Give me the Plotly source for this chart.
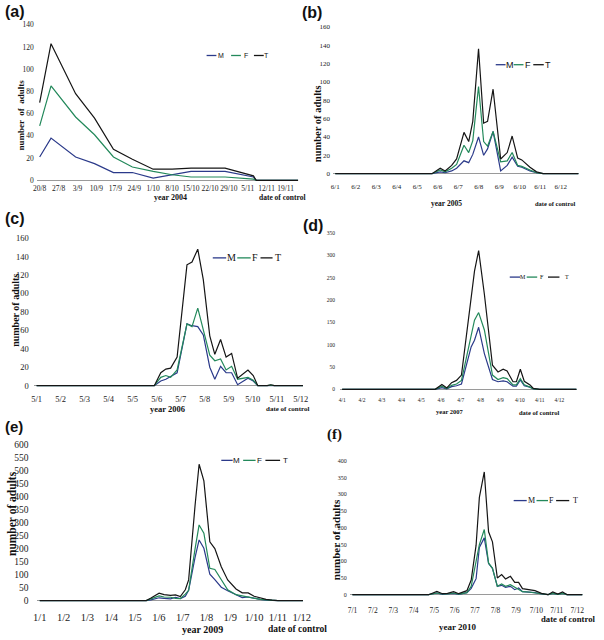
import plotly.graph_objects as go

W, H = 604, 640
SERIF = "Liberation Serif, Times New Roman, serif"
SANS = "Liberation Sans, Arial, sans-serif"
COLORS = {"M": "#2b3a8a", "F": "#23895b", "T": "#151515"}
SERIES = ["M", "F", "T"]

# ---------------- data ----------------
# (a) 2004, x = weeks after 20/8
A_TICKS = ["20/8", "27/8", "3/9", "10/9", "17/9", "24/9", "1/10", "8/10", "15/10", "22/10", "29/10", "5/11", "12/11", "19/11"]
A_X = [0, 0.6, 1.9, 2.9, 3.9, 4.9, 6, 7, 8, 9, 9.8, 11.3, 11.45, 12.5, 13.7]
A_M = [21, 38, 21, 15, 7, 7, 2, 5, 8, 8, 8, 3, 0, 0, 0]
A_F = [49, 85, 57, 41, 21, 12, 8, 5, 3, 3, 3, 1, 0, 0, 0]
A_T = [70, 123, 78, 56, 28, 19, 10, 10, 11, 11, 11, 4, 0, 0, 0]

# (b) 2005, x = month position (tick k = day 6 of month k)
B_TICKS = ["6/1", "6/2", "6/3", "6/4", "6/5", "6/6", "6/7", "6/8", "6/9", "6/10", "6/11", "6/12"]
B_X = [1, 5.72, 6.12, 6.36, 6.68, 6.92, 7.28, 7.51, 7.71, 7.99, 8.24, 8.43, 8.70, 9.07, 9.39, 9.63, 9.90, 10.1, 10.5, 10.82, 11.14, 12.9]
B_M = [0, 0, 2, 1, 3, 6, 14, 12, 21, 40, 20, 27, 46, 3, 9, 18, 8, 7, 3, 1, 0, 0]
B_F = [0, 0, 4, 2, 6, 10, 31, 23, 36, 95, 35, 30, 46, 13, 14, 23, 9, 8, 4, 1, 0, 0]
B_T = [0, 0, 6, 3, 9, 16, 45, 35, 57, 136, 55, 57, 92, 16, 23, 41, 17, 15, 7, 2, 0, 0]

# (c) 2006
C_TICKS = ["5/1", "5/2", "5/3", "5/4", "5/5", "5/6", "5/7", "5/8", "5/9", "5/10", "5/11", "5/12"]
C_X = [1, 5.9, 6.17, 6.38, 6.58, 6.85, 7.26, 7.47, 7.71, 7.94, 8.21, 8.42, 8.66, 8.89, 9.12, 9.37, 9.8, 10.02, 10.21, 10.6, 10.75, 10.9, 12.3]
C_M = [0, 0, 5, 7, 10, 14, 67, 65, 64, 55, 20, 7, 21, 14, 14, 1, 8, 5, 0, 0, 0.5, 0, 0]
C_F = [0, 0, 9, 11, 9, 17, 67, 64, 84, 60, 33, 27, 29, 17, 21, 7, 9, 6, 0, 0, 0.5, 0, 0]
C_T = [0, 0, 14, 18, 19, 31, 131, 134, 148, 115, 54, 34, 50, 31, 35, 8, 17, 11, 0, 0, 1, 0, 0]

# (d) 2007
D_TICKS = ["4/1", "4/2", "4/3", "4/4", "4/5", "4/6", "4/7", "4/8", "4/9", "4/10", "4/11", "4/12"]
D_X = [1, 5.71, 6.05, 6.3, 6.54, 6.79, 7.04, 7.29, 7.53, 7.70, 7.91, 8.2, 8.61, 8.89, 9.15, 9.35, 9.65, 9.82, 10.02, 10.22, 10.51, 10.68, 11.0, 12.9]
D_M = [0, 0, 4, 1, 6, 8, 12, 55, 95, 110, 139, 80, 22, 17, 19, 17, 7, 7, 21, 8, 5, 1, 0, 0]
D_F = [0, 0, 7, 2, 9, 12, 20, 70, 120, 155, 172, 133, 32, 22, 26, 24, 10, 10, 24, 10, 5, 1, 0, 0]
D_T = [0, 0, 11, 3, 15, 20, 32, 125, 215, 265, 311, 213, 54, 39, 45, 41, 17, 17, 45, 18, 10, 2, 0, 0]

# (e) 2009
E_TICKS = ["1/1", "1/2", "1/3", "1/4", "1/5", "1/6", "1/7", "1/8", "1/9", "1/10", "1/11", "1/12"]
E_X = [1, 5.47, 5.67, 6.01, 6.22, 6.49, 6.7, 6.9, 7.11, 7.25, 7.52, 7.69, 7.89, 8.14, 8.35, 8.62, 8.89, 9.24, 9.5, 9.75, 10.0, 10.25, 10.5, 10.75, 11.0, 12.3]
E_M = [0, 0, 3, 11, 9, 7, 13, 8, 17, 40, 167, 234, 202, 102, 81, 52, 38, 22, 12, 14, 8, 5, 2, 1, 0, 0]
E_F = [0, 0, 7, 18, 14, 13, 9, 8, 25, 40, 200, 292, 260, 125, 120, 79, 42, 23, 18, 16, 9, 5, 3, 1, 0, 0]
E_T = [0, 0, 10, 29, 23, 20, 22, 16, 42, 80, 367, 526, 462, 227, 201, 131, 80, 45, 30, 30, 17, 10, 5, 2, 0, 0]

# (f) 2010
F_TICKS = ["7/1", "7/2", "7/3", "7/4", "7/5", "7/6", "7/7", "7/8", "7/9", "7/10", "7/11", "7/12"]
F_X = [1, 4.73, 5.13, 5.4, 5.65, 5.95, 6.2, 6.45, 6.6, 6.81, 7.05, 7.21, 7.45, 7.66, 7.85, 8.09, 8.3, 8.49, 8.73, 8.94, 9.13, 9.32, 9.61, 9.93, 10.25, 10.57, 10.8, 11.05, 11.28, 11.5, 12.3]
F_M = [0, 0, 5, 1, 2, 4, 1, 5, 6, 19, 48, 141, 170, 93, 79, 25, 28, 22, 25, 15, 20, 9, 8, 6, 2, 0, 4, 1, 4, 0, 0]
F_F = [0, 0, 5, 2, 2, 5, 2, 5, 6, 25, 100, 150, 195, 95, 79, 25, 32, 25, 30, 22, 17, 9, 8, 6, 2, 0, 4, 1, 4, 0, 0]
F_T = [0, 0, 10, 3, 4, 9, 3, 10, 12, 44, 148, 291, 367, 188, 158, 50, 60, 47, 55, 37, 37, 18, 16, 12, 4, 0, 8, 2, 8, 0, 0]

# ---------------- layout calibration ----------------
panels = [
    dict(x=A_X, M=A_M, F=A_F, T=A_T, xt=A_TICKS, xv=list(range(14)), yv=list(range(0, 141, 20)),
         xcal=(36.4, 0, 287.3, 13), xpx=(34, 300), ycal=(180, 0, 23, 140), ypx=(181, 20),
         xfont=7.5, yfont=7.5, xlen=0, ylen=1),
    dict(x=B_X, M=B_M, F=B_F, T=B_T, xt=B_TICKS, xv=list(range(1, 13)), yv=list(range(0, 161, 20)),
         xcal=(338, 1, 568, 12), xpx=(336, 586), ycal=(173.3, 0, 25, 160), ypx=(174.5, 22),
         xfont=7, yfont=7, xlen=5, ylen=1),
    dict(x=C_X, M=C_M, F=C_F, T=C_T, xt=C_TICKS, xv=list(range(1, 13)), yv=list(range(0, 161, 20)),
         xcal=(33.3, 1, 278.3, 11), xpx=(31, 305), ycal=(387.3, 0, 238.3, 160), ypx=(388.5, 235),
         xfont=8.5, yfont=8.5, xlen=4, ylen=3),
    dict(x=D_X, M=D_M, F=D_F, T=D_T, xt=D_TICKS, xv=list(range(1, 13)), yv=list(range(0, 351, 50)),
         xcal=(345, 1, 566.7, 12), xpx=(343, 584), ycal=(391, 0, 233.3, 350), ypx=(392, 230),
         xfont=5.5, yfont=5.5, xlen=4, ylen=3),
    dict(x=E_X, M=E_M, F=E_F, T=E_T, xt=E_TICKS, xv=list(range(1, 13)), yv=list(range(0, 601, 50)),
         xcal=(36.5, 1, 279.5, 11), xpx=(34, 305), ycal=(604.3, 0, 447.3, 600), ypx=(605.5, 444),
         xfont=10.5, yfont=9.5, xlen=6, ylen=6),
    dict(x=F_X, M=F_M, F=F_F, T=F_T, xt=F_TICKS, xv=list(range(1, 13)), yv=list(range(0, 401, 50)),
         xcal=(355.5, 1, 584.9, 12), xpx=(353, 590), ycal=(598.3, 0, 463.3, 400), ypx=(599.5, 460),
         xfont=7.5, yfont=6, xlen=7, ylen=1),
]


def xdom(cal, px):
    pa, va, pb, vb = cal
    s = (pb - pa) / (vb - va)
    return [px[0] / W, px[1] / W], [va + (px[0] - pa) / s, va + (px[1] - pa) / s]


def ydom(cal, px):
    p0, v0, p1, v1 = cal
    s = (p0 - p1) / (v1 - v0)
    return [1 - px[0] / H, 1 - px[1] / H], [v0 - (px[0] - p0) / s, v0 + (p0 - px[1]) / s]


fig = go.Figure()
layout = {}
for i, p in enumerate(panels):
    n = "" if i == 0 else str(i + 1)
    xd, xr = xdom(p["xcal"], p["xpx"])
    yd, yr = ydom(p["ycal"], p["ypx"])
    for s in SERIES:
        fig.add_trace(go.Scatter(x=p["x"], y=p[s], mode="lines", name=s,
                                 line=dict(color=COLORS[s], width=1.2),
                                 xaxis="x" + n, yaxis="y" + n, showlegend=False,
                                 hoverinfo="x+y+name"))
    layout["xaxis" + n] = dict(domain=xd, range=xr, anchor="y" + n, tickmode="array",
                               tickvals=p["xv"], ticktext=p["xt"], tickangle=0,
                               showgrid=False, showline=False, zeroline=False, ticks="outside",
                               ticklen=p["xlen"], tickcolor="rgba(0,0,0,0)",
                               tickfont=dict(family=SERIF, size=p["xfont"], color="#222"))
    layout["yaxis" + n] = dict(domain=yd, range=yr, anchor="x" + n, tickmode="array",
                               tickvals=p["yv"], tickangle=0, showgrid=False, showline=False,
                               zeroline=True, zerolinecolor="#9a9a9a", zerolinewidth=1,
                               ticks="outside", ticklen=p["ylen"], tickcolor="rgba(0,0,0,0)",
                               tickfont=dict(family=SERIF, size=p["yfont"], color="#222"))

annotations = []


def ann(text, px, py, size, family=SERIF, bold=True, angle=0):
    annotations.append(dict(text=("<b>%s</b>" % text) if bold else text,
                            x=px / W, y=1 - py / H, xref="paper", yref="paper",
                            showarrow=False, xanchor="center", yanchor="middle",
                            textangle=angle, font=dict(family=family, size=size, color="#111")))


NB = "\u00a0"
# panel letters
ann("(a)", 11, 10, 16, SANS)
ann("(b)", 314, 11, 16, SANS)
ann("(c)", 11, 219, 16, SANS)
ann("(d)", 315, 226, 16, SANS)
ann("(e)", 10, 429, 15, SANS)
ann("(f)", 337, 437, 15, SERIF)
# axis titles
ann("number " + NB + "of " + NB + "adults", 17, 114, 9, angle=-90)
ann("number of adults", 320.7, 123, 10.5, angle=-90)
ann("number of adults", 11, 311, 10, angle=-90)
ann("number of adults", 8, 516, 11.5, angle=-90)
ann("number of adults", 339, 543, 11, angle=-90)
ann("year 2004", 170, 197.7, 8)
ann("date of control", 284, 197.7, 7.5)
ann("year 2005", 451.7, 203, 7.5)
ann("date of control", 562.5, 203, 6.5)
ann("year 2006", 167, 410.5, 8.5)
ann("date of control", 289, 410.5, 7)
ann("year 2007", 455, 413, 6.5)
ann("date of control", 546, 414, 6.5)
ann("year 2009", 203, 633, 10)
ann("date of control", 299, 633, 9.5)
ann("year 2010", 463, 631, 9)
ann("date of control", 575, 623, 8.7)

# legends (drawn as keys + text)
LEGENDS = [
    dict(y=54, items=[(206.7, 216.7, 221.7), (231.7, 241.7, 246.7), (255, 265, 268.3)], size=7, family=SANS),
    dict(y=63.3, items=[(501.7, 511.7, 516), (520, 530, 535), (540, 550.7, 555)], size=9, family=SANS),
    dict(y=258.3, items=[(213, 226.7, 231.7), (238, 251.7, 256), (261.7, 274, 279.3)], size=10, family=SERIF),
    dict(y=277.7, items=[(516, 526.7, 530), (533.3, 544, 549.3), (555, 566.7, 574)], size=6, family=SERIF),
    dict(y=462.7, items=[(221.7, 233.3, 237.3), (244, 256.7, 260.7), (266.7, 281.7, 287.3)], size=8, family=SANS),
    dict(y=503.3, items=[(520, 533.3, 538.3), (543.3, 555, 558.3), (563.3, 576.7, 583.3)], size=8, family=SERIF),
]
shapes = []
for lg in LEGENDS:
    for s, (x0, x1, tx) in zip(SERIES, lg["items"]):
        shapes.append(dict(type="line", xref="paper", yref="paper", x0=x0 / W, x1=x1 / W,
                           y0=1 - lg["y"] / H, y1=1 - lg["y"] / H,
                           line=dict(color=COLORS[s], width=1.3)))
        ann(s, tx, lg["y"], lg["size"], lg["family"], bold=False)

fig.update_layout(width=W, height=H, margin=dict(l=0, r=0, t=0, b=0),
                  paper_bgcolor="white", plot_bgcolor="white",
                  annotations=annotations, shapes=shapes, **layout)
fig.write_html("out.html", config={"displayModeBar": False},
               post_script="document.body.style.margin='0px';document.body.style.padding='0px';")
